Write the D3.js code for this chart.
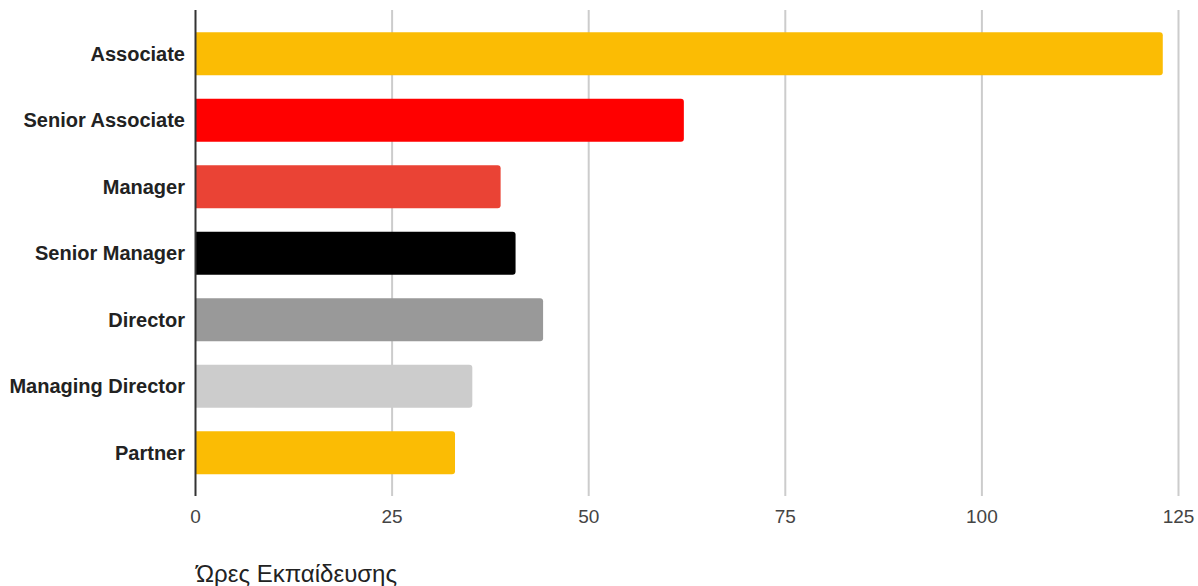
<!DOCTYPE html>
<html>
<head>
<meta charset="utf-8">
<script src="https://cdn.jsdelivr.net/npm/d3@7"></script>
<style>
  body { margin: 0; background: #fff; }
  svg { display: block; font-family: "Liberation Sans", Arial, sans-serif; }
</style>
</head>
<body>
<svg id="chart" width="1198" height="586"></svg>
<script>
const categories = ["Associate", "Senior Associate", "Manager", "Senior Manager", "Director", "Managing Director", "Partner"];
const hours = [123, 62.1, 38.8, 40.7, 44.2, 35.2, 33.0];
const barColors = ["#fbbc04", "#ff0000", "#ea4335", "#000000", "#999999", "#cccccc", "#fbbc04"];
const xTicks = [0, 25, 50, 75, 100, 125];
const axisTitle = "Ώρες Εκπαίδευσης";

const svg = d3.select("#chart");

const x = d3.scaleLinear().domain([0, 125]).range([195.5, 1178.5]);
const y = d3.scaleBand()
  .domain(categories)
  .range([20.5, 486])
  .paddingInner(0.35)
  .paddingOuter(0.175);

const gridTop = 10, gridBottom = 496;

// vertical gridlines
svg.append("g")
  .selectAll("line")
  .data(xTicks.filter((d) => d > 0))
  .enter()
  .append("line")
  .attr("x1", (d) => x(d))
  .attr("x2", (d) => x(d))
  .attr("y1", gridTop)
  .attr("y2", gridBottom)
  .attr("stroke", "#cccccc")
  .attr("stroke-width", 2);

// bars, rounded at the right end only
const r = 3;
svg.append("g")
  .selectAll("path")
  .data(categories)
  .enter()
  .append("path")
  .attr("fill", (d, i) => barColors[i])
  .attr("d", (d, i) => {
    const x0 = x(0) + 0.5, x1 = x(hours[i]);
    const y0 = y(d), y1 = y(d) + y.bandwidth();
    return `M${x0},${y0}H${x1 - r}Q${x1},${y0} ${x1},${y0 + r}V${y1 - r}Q${x1},${y1} ${x1 - r},${y1}H${x0}Z`;
  });

// baseline axis
svg.append("line")
  .attr("x1", x(0))
  .attr("x2", x(0))
  .attr("y1", gridTop)
  .attr("y2", gridBottom)
  .attr("stroke", "#333333")
  .attr("stroke-width", 2);

// category labels
svg.append("g")
  .selectAll("text")
  .data(categories)
  .enter()
  .append("text")
  .attr("x", 185)
  .attr("y", (d) => y(d) + y.bandwidth() / 2)
  .attr("dy", "0.35em")
  .attr("text-anchor", "end")
  .attr("font-size", 20)
  .attr("font-weight", "bold")
  .attr("fill", "#222222")
  .text((d) => d);

// x tick labels
svg.append("g")
  .selectAll("text")
  .data(xTicks)
  .enter()
  .append("text")
  .attr("x", (d) => x(d))
  .attr("y", 523)
  .attr("text-anchor", "middle")
  .attr("font-size", 19)
  .attr("fill", "#444444")
  .text((d) => d);

svg.append("text")
  .attr("x", 196)
  .attr("y", 582)
  .attr("font-size", 24)
  .attr("fill", "#222222")
  .text(axisTitle);
</script>
</body>
</html>
